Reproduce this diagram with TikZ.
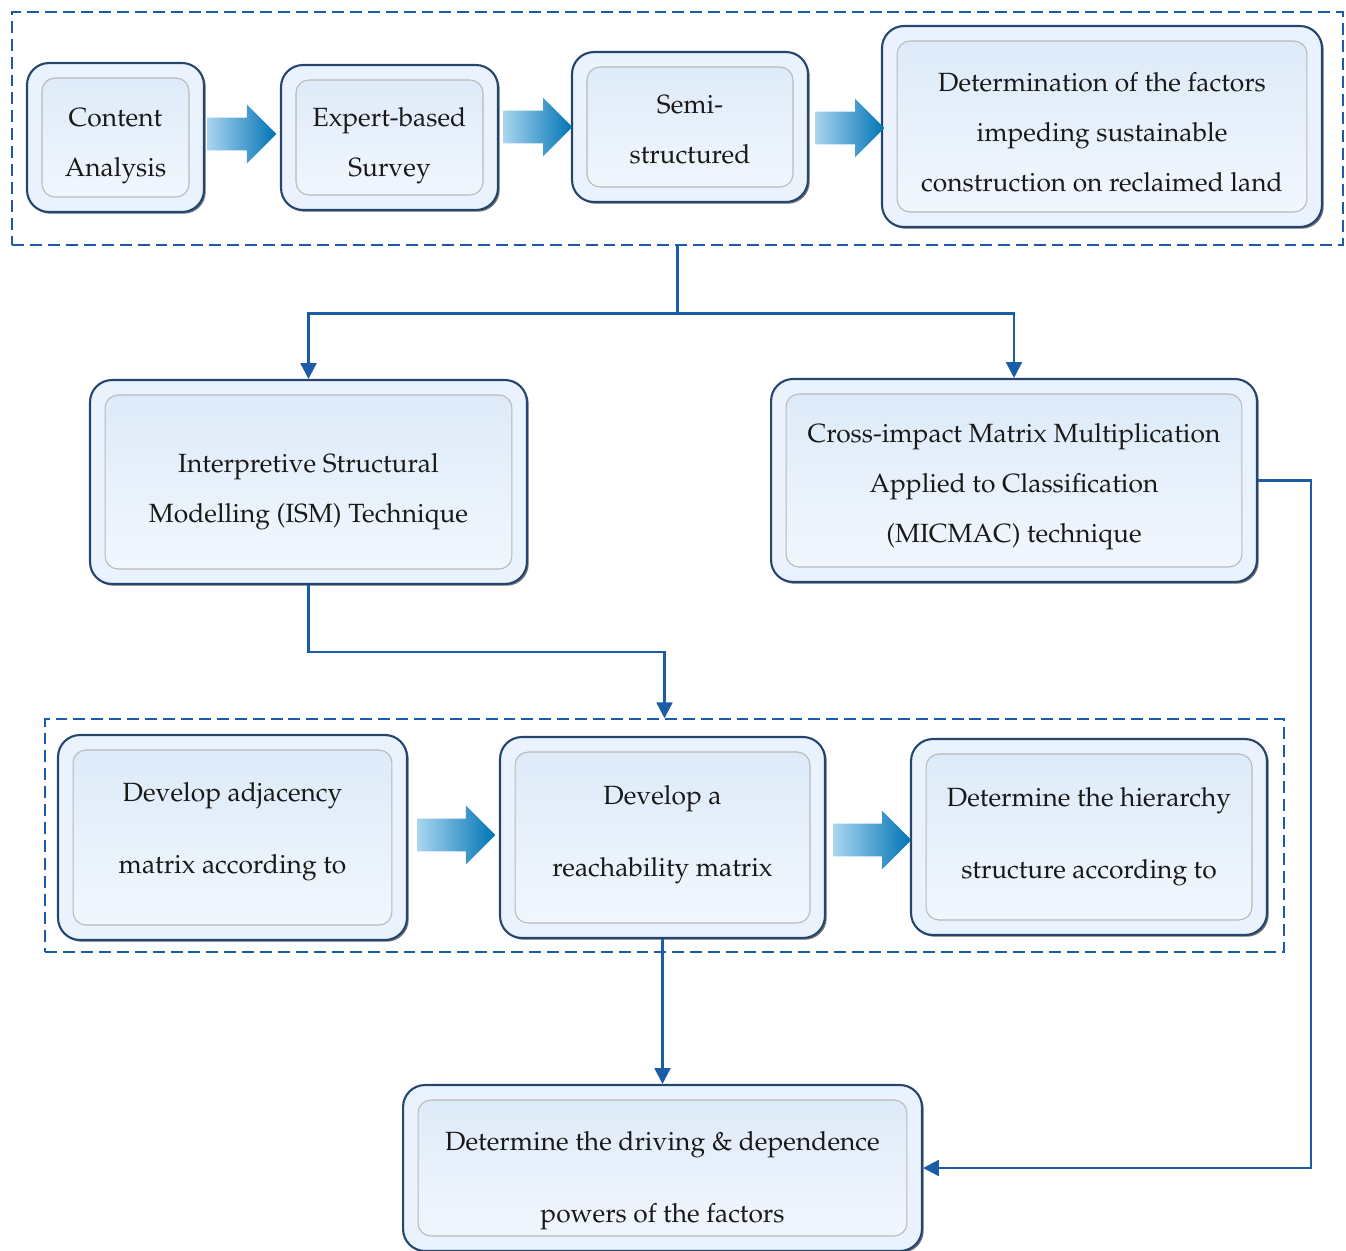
\documentclass[tikz,border=0pt]{standalone}
\usepackage[T1]{fontenc}
\usepackage{mathpazo}
\usetikzlibrary{arrows.meta}
\usetikzlibrary{shapes.arrows}
\usetikzlibrary{shadows}

\definecolor{linkblue}{HTML}{1B5CA6}
\definecolor{boxedge}{HTML}{24466E}
\definecolor{boxfill}{HTML}{EAF3FD}
\definecolor{innertop}{HTML}{DCE9F8}
\definecolor{innerbot}{HTML}{F3F8FE}
\definecolor{arrowlight}{HTML}{A9D5F0}
\definecolor{arrowdark}{HTML}{0074B4}

% nudge the text of a box down (first line) or up (last line)
\newcommand{\pushdown}[1]{\rule{0pt}{\dimexpr 10.8pt+#1\relax}}
\newcommand{\liftup}[1]{\rule[-\dimexpr 4.2pt+#1\relax]{0pt}{0pt}}

\tikzset{
  stepbox/.style={draw=boxedge, line width=1.2pt, fill=boxfill, rounded corners=0.44cm,
    align=center, text=black!90, inner sep=0pt,
    drop shadow={shadow xshift=1pt, shadow yshift=-1pt, fill=black, opacity=0.55},
    path picture={\draw[gray!55, line width=0.6pt, rounded corners=0.26cm,
      top color=innertop, bottom color=innerbot]
      ([shift={(0.3cm,0.3cm)}]path picture bounding box.south west) rectangle
      ([shift={(-0.3cm,-0.3cm)}]path picture bounding box.north east);}},
  tight/.style={font=\fontsize{15}{28.35}\selectfont},
  wide/.style={font=\fontsize{15}{40.8}\selectfont},
  fatarrow/.style={single arrow, draw=none, anchor=west, inner xsep=0pt, inner ysep=0.32cm,
    single arrow head extend=0.26cm, single arrow tip angle=90,
    single arrow head indent=0pt,
    left color=arrowlight, right color=arrowdark},
  groupbox/.style={draw=linkblue, dash pattern=on 6.8pt off 3.4pt, line width=0.85pt, inner sep=0pt},
  link/.style={draw=linkblue, line width=1.4pt},
  linkarrow/.style={link, -{Triangle[length=9pt,width=9pt]}},
}

\begin{document}
\begin{tikzpicture}[x=0.02cm, y=-0.02cm]
\useasboundingbox (0,0) rectangle (1346,1251);

% dashed groups
\node[groupbox, minimum width=26.62cm, minimum height=4.66cm] (topgrp) at (677.5,128.5) {};
\node[groupbox, minimum width=24.78cm, minimum height=4.66cm] (lowgrp) at (664.5,835.5) {};

% first row
\node[stepbox, tight, minimum width=3.54cm, minimum height=2.98cm] (content) at (115.5,137.5) {\pushdown{9pt}Content\\Analysis};
\node[stepbox, tight, minimum width=4.34cm, minimum height=2.90cm] (survey) at (389.5,137.5) {\pushdown{9pt}Expert-based\\Survey};
\node[stepbox, tight, minimum width=4.72cm, minimum height=3.00cm] (semi) at (690,127) {\pushdown{2.3pt}Semi-\\structured};
\node[stepbox, tight, minimum width=8.80cm, minimum height=4.02cm] (factors) at (1102,126.5) {\pushdown{6.8pt}Determination of the factors\\impeding sustainable\\construction on reclaimed land};
\node[fatarrow, minimum height=1.38cm] (fa1) at (207,134) {};
\node[fatarrow, minimum height=1.38cm] (fa2) at (503,127) {};
\node[fatarrow, minimum height=1.38cm] (fa3) at (815,128) {};

% methods
\node[stepbox, tight, minimum width=8.74cm, minimum height=4.08cm] (ism) at (308.5,482) {\pushdown{11.3pt}Interpretive Structural\\Modelling (ISM) Technique};
\node[stepbox, tight, minimum width=9.72cm, minimum height=4.06cm] (micmac) at (1014,480.5) {\pushdown{6.8pt}Cross-impact Matrix Multiplication\\Applied to Classification\\(MICMAC) technique};

% ISM steps
\node[stepbox, wide, minimum width=6.98cm, minimum height=4.10cm] (adjacency) at (232.5,837.5) {Develop adjacency\\matrix according to\liftup{6.8pt}};
\node[stepbox, wide, minimum width=6.50cm, minimum height=4.02cm] (reach) at (662.5,837.5) {Develop a\\reachability matrix\liftup{3.4pt}};
\node[stepbox, wide, minimum width=7.12cm, minimum height=3.92cm] (hierarchy) at (1089,837) {Determine the hierarchy\\structure according to};
\node[fatarrow, minimum height=1.56cm] (fa4) at (417,835) {};
\node[fatarrow, minimum height=1.56cm] (fa5) at (833,840) {};

% result
\node[stepbox, wide, minimum width=10.38cm, minimum height=3.32cm] (powers) at (662.5,1168) {\pushdown{14.7pt}Determine the driving \& dependence\\powers of the factors};

% connectors
\draw[link] (topgrp.south) -- ++(0,68) coordinate (split);
\draw[linkarrow] (split) -| (ism.north);
\draw[linkarrow] (split) -| (micmac.north);
\draw[linkarrow] (ism.south) -- ++(0,67) -| (lowgrp.north);
\draw[linkarrow] (reach.south) -- (powers.north);
\draw[linkarrow] (micmac.east) -- ++(53,0) |- (powers.east);
\end{tikzpicture}
\end{document}
